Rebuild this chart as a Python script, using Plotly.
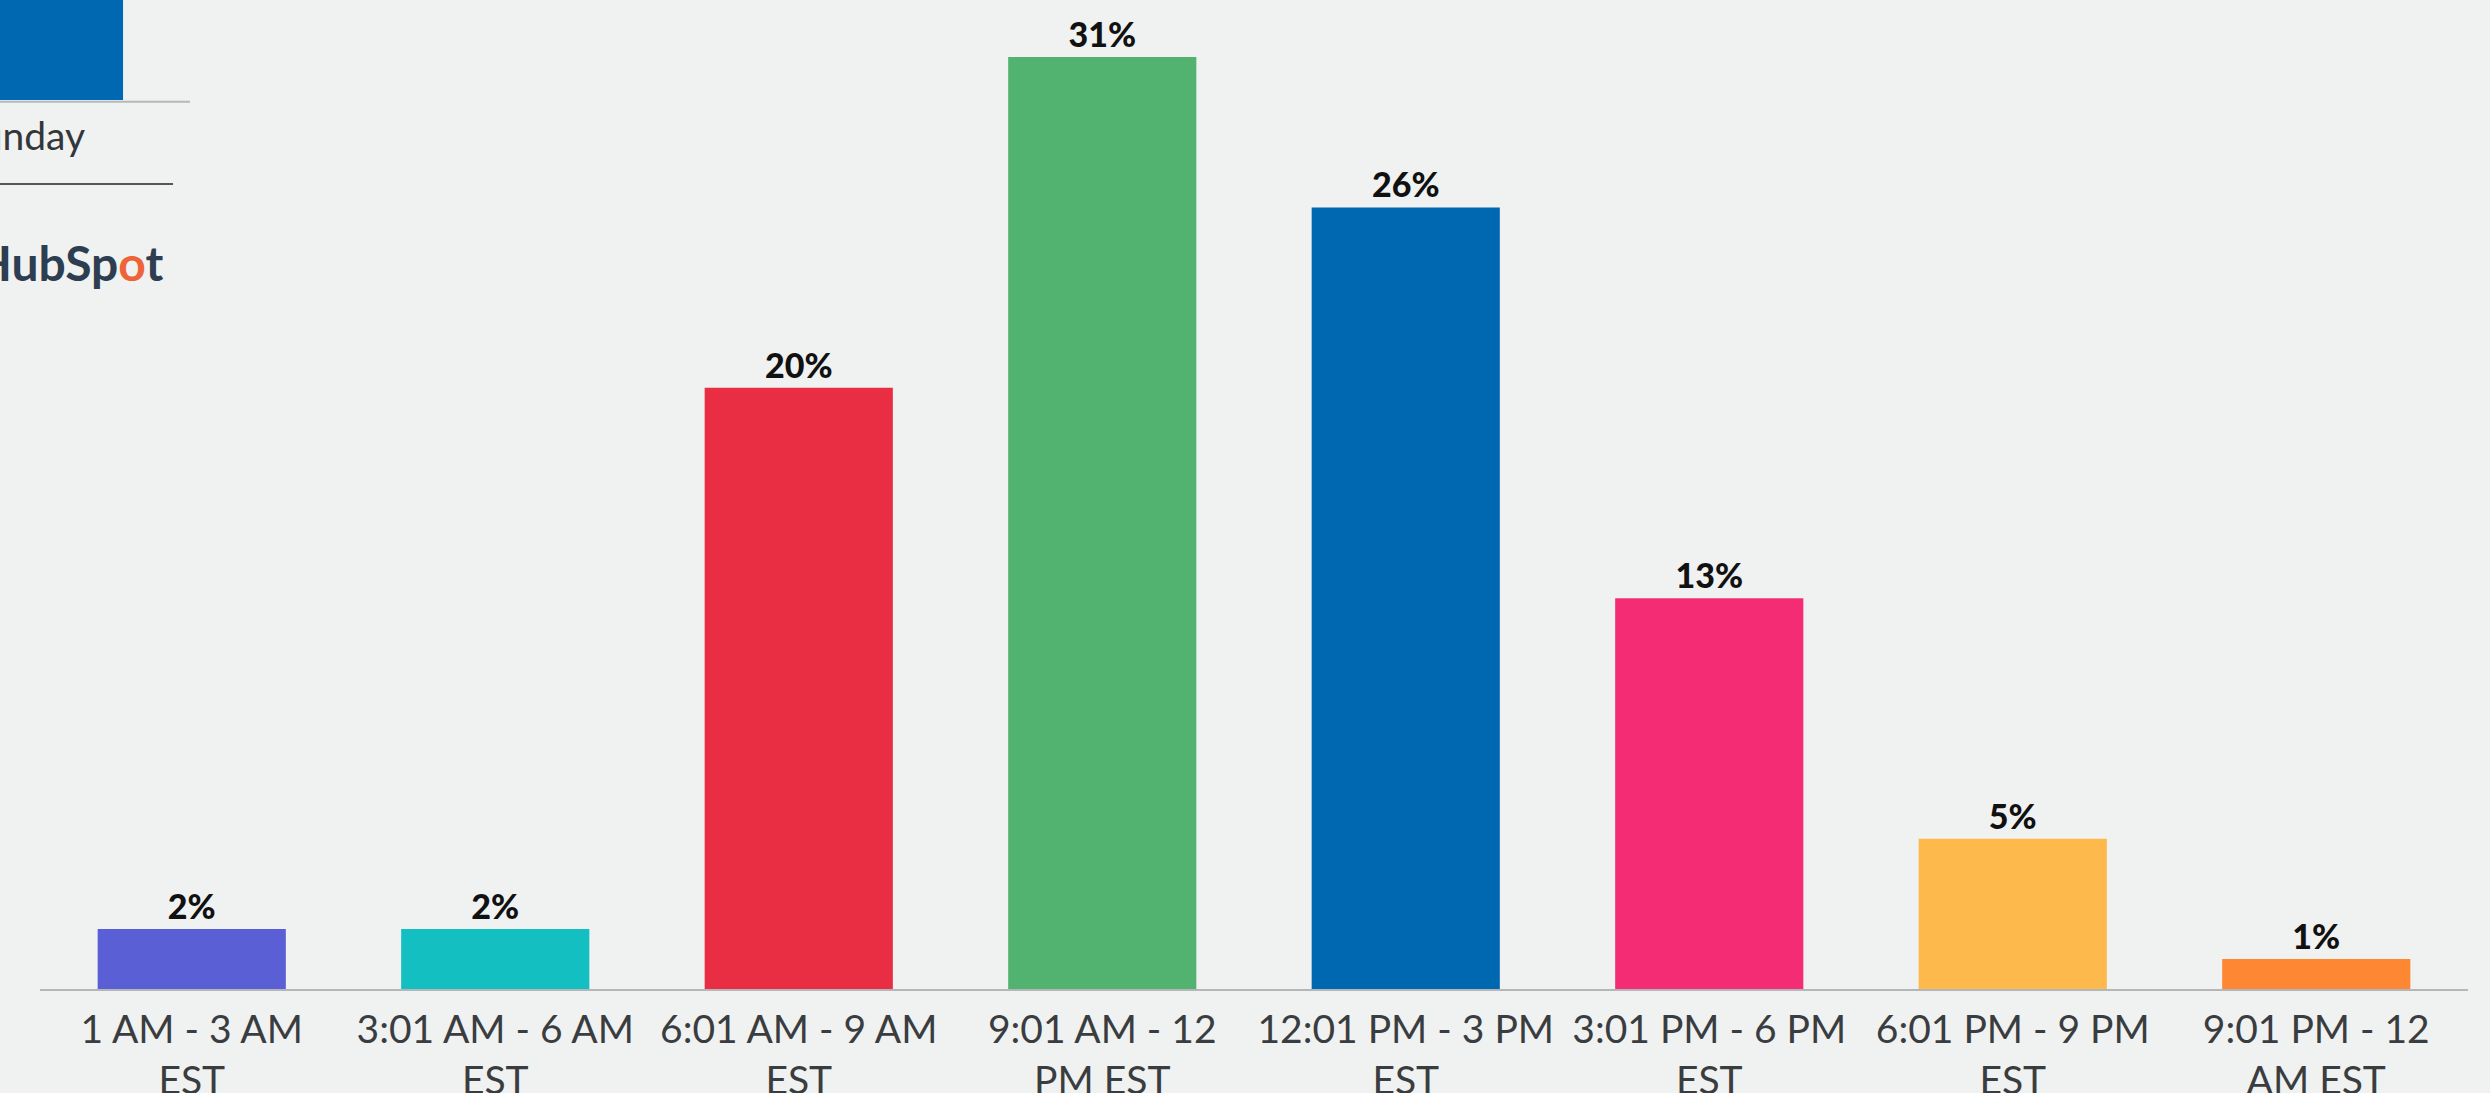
import plotly.graph_objects as go

time_slots = [
    "1 AM - 3 AM<br>EST",
    "3:01 AM - 6 AM<br>EST",
    "6:01 AM - 9 AM<br>EST",
    "9:01 AM - 12<br>PM EST",
    "12:01 PM - 3 PM<br>EST",
    "3:01 PM - 6 PM<br>EST",
    "6:01 PM - 9 PM<br>EST",
    "9:01 PM - 12<br>AM EST",
]
shares = [2, 2, 20, 31, 26, 13, 5, 1]
share_labels = ["2%", "2%", "20%", "31%", "26%", "13%", "5%", "1%"]
bar_colors = ["#5b5fd6", "#13bfc0", "#e92d43", "#52b26f",
              "#0067b1", "#f42c74", "#fdb94b", "#fd8733"]

BG = "#f0f1f1"

fig = go.Figure()
fig.add_trace(go.Bar(
    x=time_slots,
    y=shares,
    text=share_labels,
    textposition="outside",
    textfont=dict(family="Lato", size=34, color="#111111", weight=900),
    marker=dict(color=bar_colors, line=dict(width=0)),
    cliponaxis=False,
    showlegend=False,
))

# remnants of the slide cut off at the top-left edge
fig.add_shape(type="rect", xref="paper", yref="paper",
              x0=-0.03, x1=0.0342, y0=0.899, y1=1.02,
              fillcolor="#0067b1", line_width=0, layer="above")
fig.add_shape(type="line", xref="paper", yref="paper",
              x0=-0.03, x1=0.0618, y0=0.897, y1=0.897,
              line=dict(color="#b5b8ba", width=2))
fig.add_shape(type="line", xref="paper", yref="paper",
              x0=-0.03, x1=0.0548, y0=0.814, y1=0.814,
              line=dict(color="#55585b", width=2))
fig.add_annotation(xref="paper", yref="paper", x=0.0194, y=0.8635,
                   xanchor="right", yanchor="middle", showarrow=False,
                   text="Sunday", font=dict(family="Lato", size=39, color="#33373a"))
fig.add_annotation(xref="paper", yref="paper", x=0.0515, y=0.735,
                   xanchor="right", yanchor="middle", showarrow=False,
                   text="HubSp<span style='color:#ee6438'>o</span>t",
                   font=dict(family="Lato", size=48, color="#2d3e50", weight="bold"))

fig.update_layout(
    width=2490, height=1093,
    margin=dict(l=40, r=22, t=0, b=104),
    paper_bgcolor=BG, plot_bgcolor=BG,
    bargap=0.38,
    xaxis=dict(
        range=[-0.5, 7.5], automargin=False,
        showline=True, linecolor="#b4b7b9", linewidth=2,
        showgrid=False, ticks="", ticklabelstandoff=5,
        tickfont=dict(family="Lato", size=39, color="#3a3d40"),
    ),
    yaxis=dict(range=[0, 32.9], visible=False, showgrid=False),
)

fig.write_html("out.html", config={"displayModeBar": False},
               post_script="document.body.style.margin='0';")
